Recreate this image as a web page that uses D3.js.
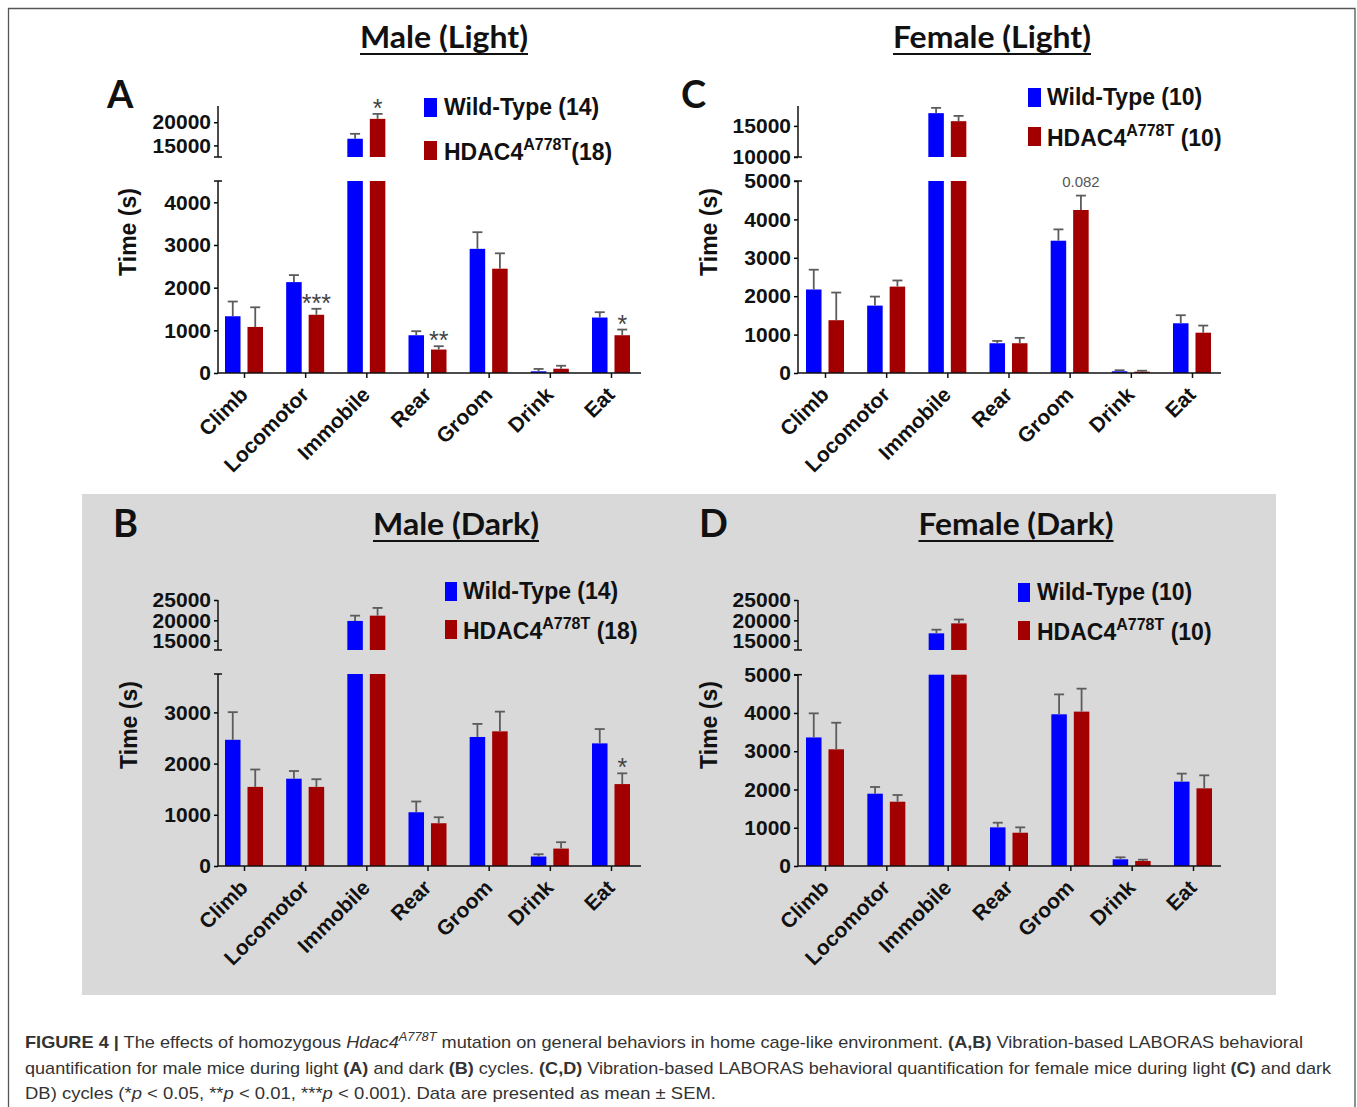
<!DOCTYPE html>
<html>
<head>
<meta charset="utf-8">
<script src="https://cdn.jsdelivr.net/npm/d3@7"></script>
<style>
  body { margin: 0; background: #fff; }
</style>
</head>
<body>
<script>
// behaviours on the x axis
const categories = ["Climb", "Locomotor", "Immobile", "Rear", "Groom", "Drink", "Eat"];

// Male, light cycle (A)
const maleLightWT = [1330, 2130, 16440, 885, 2910, 40, 1300];
const maleLightWTsem = [345, 165, 1060, 95, 390, 55, 125];
const maleLightMut = [1080, 1365, 20730, 550, 2445, 100, 885];
const maleLightMutSem = [460, 140, 1070, 78, 360, 70, 133];
const maleLightNotes = ["", "***", "*", "**", "", "", "*"];

// Female, light cycle (C)
const femaleLightWT = [2175, 1755, 17050, 775, 3445, 45, 1295];
const femaleLightWTsem = [515, 235, 850, 60, 295, 27, 210];
const femaleLightMut = [1375, 2250, 15760, 775, 4245, 35, 1050];
const femaleLightMutSem = [720, 160, 850, 140, 375, 25, 185];
const femaleLightNotes = ["", "", "", "", "0.082", "", ""];

// Male, dark cycle (B)
const maleDarkWT = [2465, 1705, 19850, 1050, 2520, 185, 2395];
const maleDarkWTsem = [540, 150, 1300, 210, 255, 45, 280];
const maleDarkMut = [1545, 1545, 21150, 835, 2630, 340, 1600];
const maleDarkMutSem = [340, 150, 1900, 117, 385, 125, 210];
const maleDarkNotes = ["", "", "", "", "", "", "*"];

// Female, dark cycle (D)
const femaleDarkWT = [3360, 1890, 16800, 1010, 3965, 175, 2205];
const femaleDarkWTsem = [630, 175, 900, 122, 520, 52, 210];
const femaleDarkMut = [3050, 1680, 19250, 870, 4035, 130, 2030];
const femaleDarkMutSem = [695, 175, 950, 140, 600, 35, 340];
const femaleDarkNotes = ["", "", "", "", "", "", ""];

const blue = "#0000ff";
const red = "#a20000";
const errColor = "#5c5c5c";

const svg = d3.select("body").append("svg")
  .attr("width", 1357)
  .attr("height", 1107)
  .style("font-family", "'Liberation Sans', Arial, sans-serif");

svg.append("rect").attr("width", 1357).attr("height", 1107).attr("fill", "#fff");

// grey box behind the dark cycle panels
svg.append("rect")
  .attr("x", 82).attr("y", 494)
  .attr("width", 1194).attr("height", 501)
  .attr("fill", "#d9d9d9");

// page frame
svg.append("path")
  .attr("d", "M8.5,1107 V8.5 H1355 V1107")
  .attr("fill", "none")
  .attr("stroke", "#555")
  .attr("stroke-width", 1.3);

function drawPanel(p) {
  const g = svg.append("g");

  const x = d3.scalePoint().domain(categories).range([p.firstTick, p.lastTick]);
  const sub = d3.scaleBand().domain(["wt", "mut"]).range([-19, 19]).paddingInner(0.31);
  const yLo = d3.scaleLinear().domain([0, p.lowerMax]).range([p.base, p.lowerTop]);
  const yHi = d3.scaleLinear().domain(p.upperDomain).range(p.upperRange);

  const rows = categories.flatMap((c, i) => [
    { cat: c, grp: "wt", v: p.wt[i], e: p.wtSem[i], note: "" },
    { cat: c, grp: "mut", v: p.mut[i], e: p.mutSem[i], note: p.notes[i] }
  ]);
  const bx = d => x(d.cat) + sub(d.grp);
  const fill = d => (d.grp === "wt" ? blue : red);
  const topScale = d => (d.v > p.lowerMax ? yHi : yLo);

  // lower segment bars
  g.selectAll(".lo").data(rows).join("rect")
    .attr("x", bx)
    .attr("width", sub.bandwidth())
    .attr("y", d => yLo(Math.min(d.v, p.lowerMax)))
    .attr("height", d => p.base - yLo(Math.min(d.v, p.lowerMax)))
    .attr("fill", fill);

  // upper segment bars
  const tall = rows.filter(d => d.v > p.upperDomain[0]);
  g.selectAll(".hi").data(tall).join("rect")
    .attr("x", bx)
    .attr("width", sub.bandwidth())
    .attr("y", d => yHi(d.v))
    .attr("height", d => yHi(p.upperDomain[0]) - yHi(d.v))
    .attr("fill", fill);

  // error bars (upper whisker only)
  const err = g.selectAll(".err").data(rows).join("g")
    .attr("stroke", errColor).attr("stroke-width", 1.8);
  err.append("line")
    .attr("x1", d => bx(d) + sub.bandwidth() / 2)
    .attr("x2", d => bx(d) + sub.bandwidth() / 2)
    .attr("y1", d => topScale(d)(d.v))
    .attr("y2", d => topScale(d)(d.v + d.e));
  err.append("line")
    .attr("x1", d => bx(d) + sub.bandwidth() / 2 - 5)
    .attr("x2", d => bx(d) + sub.bandwidth() / 2 + 5)
    .attr("y1", d => topScale(d)(d.v + d.e))
    .attr("y2", d => topScale(d)(d.v + d.e));

  // significance marks
  g.selectAll(".note").data(rows.filter(d => d.note)).join("text")
    .attr("x", d => bx(d) + sub.bandwidth() / 2)
    .attr("y", d => topScale(d)(d.v + d.e) + (d.note.startsWith("*") ? 3 : -9))
    .attr("text-anchor", "middle")
    .attr("font-size", d => (d.note.startsWith("*") ? 25 : 15))
    .attr("fill", d => (d.note.startsWith("*") ? "#444" : "#555"))
    .text(d => d.note);

  // y axes (broken)
  const styleAxis = a => {
    a.select(".domain").remove();
    a.attr("font-size", 21).attr("font-weight", "bold").attr("font-family", null);
    a.selectAll("line").attr("stroke-width", 1.5);
    a.selectAll("text").attr("fill", "#111");
  };
  g.append("g")
    .attr("transform", `translate(${p.axisX},0)`)
    .call(d3.axisLeft(yLo).tickValues(p.lowerTicks).tickFormat(d3.format("d"))
      .tickSize(4).tickPadding(3))
    .call(styleAxis);
  g.append("g")
    .attr("transform", `translate(${p.axisX},0)`)
    .call(d3.axisLeft(yHi).tickValues(p.upperTicks).tickFormat(d3.format("d"))
      .tickSize(4).tickPadding(3))
    .call(styleAxis);

  const ax = g.append("g").attr("stroke", "#111").attr("stroke-width", 1.5);
  ax.append("line").attr("x1", p.axisX).attr("x2", p.axisX)
    .attr("y1", p.base).attr("y2", p.lowerTop);
  ax.append("line").attr("x1", p.axisX - 4).attr("x2", p.axisX + 4)
    .attr("y1", p.lowerTop).attr("y2", p.lowerTop);
  ax.append("line").attr("x1", p.axisX).attr("x2", p.axisX)
    .attr("y1", p.upperRange[0]).attr("y2", p.upperRange[1]);
  ax.append("line").attr("x1", p.axisX - 4).attr("x2", p.axisX + 4)
    .attr("y1", p.upperRange[0]).attr("y2", p.upperRange[0]);
  ax.append("line").attr("x1", p.axisX).attr("x2", p.axisEnd)
    .attr("y1", p.base).attr("y2", p.base);

  // x axis ticks and rotated labels
  const xa = g.append("g")
    .attr("transform", `translate(0,${p.base})`)
    .call(d3.axisBottom(x).tickSize(5).tickFormat(""));
  xa.select(".domain").remove();
  xa.selectAll("line").attr("stroke", "#111").attr("stroke-width", 1.5);

  g.selectAll(".xl").data(categories).join("text")
    .attr("transform", d => `translate(${x(d) + 5},${p.base + 23}) rotate(-45)`)
    .attr("text-anchor", "end")
    .attr("font-size", 21)
    .attr("font-weight", "bold")
    .attr("fill", "#111")
    .text(d => d);

  // y title
  g.append("text")
    .attr("transform", `translate(${p.yTitle[0]},${p.yTitle[1]}) rotate(-90)`)
    .attr("text-anchor", "middle")
    .attr("font-size", 23)
    .attr("font-weight", "bold")
    .attr("fill", "#111")
    .text("Time (s)");

  // panel title, underlined
  g.append("text")
    .attr("x", p.title[1] - p.title[3] / 2)
    .attr("y", p.title[2])
    .attr("textLength", p.title[3])
    .attr("lengthAdjust", "spacingAndGlyphs")
    .attr("font-family", "Lato, 'Open Sans', sans-serif")
    .attr("font-size", 31)
    .attr("font-weight", "bold")
    .attr("fill", "#111")
    .text(p.title[0]);
  g.append("line")
    .attr("x1", p.title[1] - p.title[3] / 2).attr("x2", p.title[1] + p.title[3] / 2)
    .attr("y1", p.title[2] + 6).attr("y2", p.title[2] + 6)
    .attr("stroke", "#111").attr("stroke-width", 2.2);

  // panel letter
  g.append("text")
    .attr("x", p.letter[1]).attr("y", p.letter[2])
    .attr("font-family", "Lato, 'Open Sans', sans-serif")
    .attr("font-size", 38)
    .attr("font-weight", "bold")
    .attr("fill", "#111")
    .text(p.letter[0]);

  // legend
  const lg = g.append("g").attr("font-size", 23).attr("font-weight", "bold").attr("fill", "#111");
  lg.append("rect").attr("x", p.legX).attr("y", p.legY[0] - 17)
    .attr("width", p.legW).attr("height", 19).attr("fill", blue);
  lg.append("rect").attr("x", p.legX).attr("y", p.legY[1] - 19)
    .attr("width", p.legW).attr("height", 19).attr("fill", red);
  lg.append("text").attr("x", p.legTextX).attr("y", p.legY[0])
    .text(`Wild-Type (${p.n[0]})`);
  const t2 = lg.append("text").attr("x", p.legTextX).attr("y", p.legY[1]);
  t2.append("tspan").text("HDAC4");
  t2.append("tspan").attr("font-size", 16).attr("dy", -10).text("A778T");
  t2.append("tspan").attr("dy", 10).text(`${p.gap}(${p.n[1]})`);
}

drawPanel({
  letter: ["A", 107, 108], title: ["Male (Light)", 444, 48, 168],
  axisX: 218, axisEnd: 641, base: 373, firstTick: 244, lastTick: 611,
  lowerMax: 4500, lowerTop: 181, lowerTicks: [0, 1000, 2000, 3000, 4000],
  upperDomain: [12500, 23500], upperRange: [157, 106], upperTicks: [15000, 20000],
  yTitle: [136, 232],
  legX: 424, legW: 13, legTextX: 444, legY: [115, 160], n: [14, 18], gap: "",
  wt: maleLightWT, wtSem: maleLightWTsem, mut: maleLightMut, mutSem: maleLightMutSem,
  notes: maleLightNotes
});

drawPanel({
  letter: ["C", 681, 108], title: ["Female (Light)", 992, 48, 198],
  axisX: 798, axisEnd: 1221, base: 373, firstTick: 825, lastTick: 1192,
  lowerMax: 5000, lowerTop: 181, lowerTicks: [0, 1000, 2000, 3000, 4000, 5000],
  upperDomain: [10000, 18200], upperRange: [157, 106], upperTicks: [10000, 15000],
  yTitle: [717, 232],
  legX: 1028, legW: 13, legTextX: 1047, legY: [105, 146], n: [10, 10], gap: " ",
  wt: femaleLightWT, wtSem: femaleLightWTsem, mut: femaleLightMut, mutSem: femaleLightMutSem,
  notes: femaleLightNotes
});

drawPanel({
  letter: ["B", 113, 537], title: ["Male (Dark)", 456, 535, 166],
  axisX: 218, axisEnd: 641, base: 866, firstTick: 244, lastTick: 611,
  lowerMax: 3750, lowerTop: 674, lowerTicks: [0, 1000, 2000, 3000],
  upperDomain: [12700, 25000], upperRange: [650, 600], upperTicks: [15000, 20000, 25000],
  yTitle: [137, 725],
  legX: 445, legW: 12, legTextX: 463, legY: [599, 639], n: [14, 18], gap: " ",
  wt: maleDarkWT, wtSem: maleDarkWTsem, mut: maleDarkMut, mutSem: maleDarkMutSem,
  notes: maleDarkNotes
});

drawPanel({
  letter: ["D", 699, 537], title: ["Female (Dark)", 1016, 535, 195],
  axisX: 798, axisEnd: 1221, base: 866, firstTick: 825, lastTick: 1193,
  lowerMax: 5000, lowerTop: 674.7, lowerTicks: [0, 1000, 2000, 3000, 4000, 5000],
  upperDomain: [12700, 25000], upperRange: [650, 600], upperTicks: [15000, 20000, 25000],
  yTitle: [717, 725],
  legX: 1018, legW: 12, legTextX: 1037, legY: [600, 640], n: [10, 10], gap: " ",
  wt: femaleDarkWT, wtSem: femaleDarkWTsem, mut: femaleDarkMut, mutSem: femaleDarkMutSem,
  notes: femaleDarkNotes
});

// caption
const caption = svg.append("g").attr("font-size", 17).attr("fill", "#333");
function captionLine(y, width, parts) {
  const t = caption.append("text").attr("x", 25).attr("y", y)
    .attr("textLength", width).attr("lengthAdjust", "spacingAndGlyphs");
  let shift = 0;
  parts.forEach(([txt, style]) => {
    const s = t.append("tspan").text(txt);
    if (style && style.includes("b")) s.attr("font-weight", "bold");
    if (style && style.includes("i")) s.attr("font-style", "italic");
    if (style && style.includes("^")) {
      s.attr("font-size", 12).attr("dy", -7);
      shift = 7;
    } else if (shift) {
      s.attr("dy", shift);
      shift = 0;
    }
  });
}
captionLine(1048, 1278, [
  ["FIGURE 4 |", "b"], [" The effects of homozygous "], ["Hdac4", "i"], ["A778T", "i^"],
  [" mutation on general behaviors in home cage-like environment. "], ["(A,B)", "b"],
  [" Vibration-based LABORAS behavioral"]
]);
captionLine(1074, 1306, [
  ["quantification for male mice during light "], ["(A)", "b"], [" and dark "], ["(B)", "b"],
  [" cycles. "], ["(C,D)", "b"],
  [" Vibration-based LABORAS behavioral quantification for female mice during light "],
  ["(C)", "b"], [" and dark"]
]);
captionLine(1099, 691, [
  ["DB) cycles (*"], ["p", "i"], [" < 0.05, **"], ["p", "i"], [" < 0.01, ***"], ["p", "i"],
  [" < 0.001). Data are presented as mean ± SEM."]
]);
</script>
</body>
</html>
